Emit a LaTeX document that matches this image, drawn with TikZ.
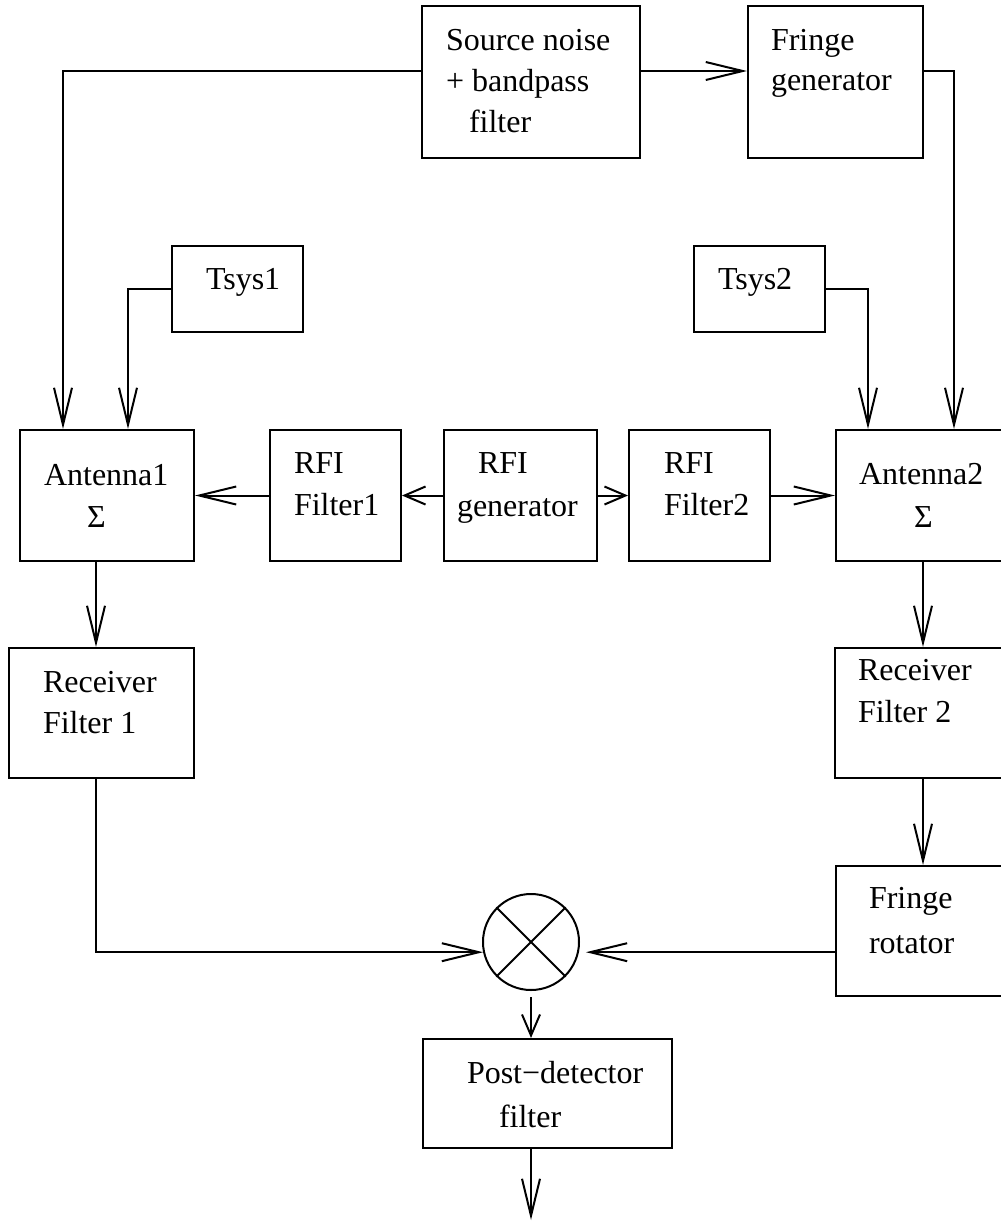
\documentclass[tikz,border=0pt]{standalone}
\usepackage{fontspec}
\setmainfont{Liberation Serif}
\usetikzlibrary{arrows.meta}

\begin{document}
\begin{tikzpicture}[x=0.5pt,y=-0.5pt,line width=1pt,
    every node/.style={font=\fontsize{16}{20.5}\selectfont},
    blk/.style 2 args={draw,inner sep=0pt,minimum width=#1*0.5pt,minimum height=#2*0.5pt},
    txt/.style={anchor=base west,inner sep=0pt,align=left},
    arrL/.style={-{Straight Barb[length=18.5pt,width=9pt]}},
    arrS/.style={-{Straight Barb[length=10.5pt,width=9pt]}}]
  \useasboundingbox (0,0) rectangle (1001,1221);
  % blocks
  \node[blk={218}{152}] (src) at (531,82) {};
  \node[blk={175}{152}] (fgen) at (835.5,82) {};
  \node[blk={131}{86}] (tsys1) at (237.5,289) {};
  \node[blk={131}{86}] (tsys2) at (759.5,289) {};
  \node[blk={174}{131}] (ant1) at (107,495.5) {};
  \node[blk={131}{131}] (rfif1) at (335.5,495.5) {};
  \node[blk={153}{131}] (rfig) at (520.5,495.5) {};
  \node[blk={141}{131}] (rfif2) at (699.5,495.5) {};
  \node[blk={174}{131}] (ant2) at (923,495.5) {};
  \node[blk={185}{130}] (rec1) at (101.5,713) {};
  \node[blk={176}{130}] (rec2) at (923,713) {};
  \node[blk={174}{130}] (frot) at (923,931) {};
  \node[blk={249}{109}] (post) at (547.5,1093.5) {};
  \node[draw,circle,inner sep=0pt,minimum size=48pt] (mix) at (531,942) {};
  \draw (mix.45) -- (mix.225) (mix.135) -- (mix.315);
  % texts (base = last line)
  \node[txt] (srct) at (445,132) {Source noise\\+ bandpass\\\hspace*{11.5pt}filter};
  \node[txt] (fgent) at (770,90) {Fringe\\[-0.5pt]generator};
  \node[txt] (tsys1t) at (205,289) {Tsys1};
  \node[txt] (tsys2t) at (717,289) {Tsys2};
  \node[txt] (ant1t) at (43,527) {Antenna1\\[0.5pt]\hspace*{21.5pt}Σ};
  \node[txt] (rfif1t) at (293,515) {RFI\\[0.5pt]Filter1};
  \node[txt] (rfigt) at (456,516) {\hspace*{10.5pt}RFI\\[1pt]generator};
  \node[txt] (rfif2t) at (663,515) {RFI\\[0.5pt]Filter2};
  \node[txt] (ant2t) at (858,527) {Antenna2\\[1pt]\hspace*{27.5pt}Σ};
  \node[txt] (rec1t) at (42,733) {Receiver\\Filter 1};
  \node[txt] (rec2t) at (857,722) {Receiver\\[0.5pt]Filter 2};
  \node[txt] (frott) at (868,953) {Fringe\\[2pt]rotator};
  \node[txt] (postt) at (466,1127) {Post−detector\\[1.5pt]\hspace*{16pt}filter};
  % connectors
  \draw[arrL] (src.west |- 0,71) -| (ant1.north -| 63,0);
  \draw[arrL] (src.east |- 0,71) -- (fgen.west |- 0,71);
  \draw[arrL] (fgen.east |- 0,71) -| (ant2.north -| 954,0);
  \draw[arrL] (tsys1.west) -| (ant1.north -| 128,0);
  \draw[arrL] (tsys2.east) -| (ant2.north -| 868,0);
  \draw[arrS] (rfig.west) -- (rfif1.east);
  \draw[arrL] (rfif1.west) -- (ant1.east);
  \draw[arrS] (rfig.east) -- (rfif2.west);
  \draw[arrL] (rfif2.east) -- (ant2.west);
  \draw[arrL] (ant1.south -| 96,0) -- (rec1.north -| 96,0);
  \draw[arrL] (ant2.south) -- (rec2.north);
  \draw[arrL] (rec2.south) -- (frot.north);
  \draw[arrL] (rec1.south -| 96,0) |- (mix.192);
  \draw[arrL,shorten >=3.5pt] (frot.west |- mix.348) -- (mix.348);
  \draw[arrS,shorten <=3pt] (mix.south) -- (post.north -| mix.south);
  \coordinate (out) at (531,1220);
  \draw[arrL] (post.south -| mix.south) -- (out);
\end{tikzpicture}
\end{document}
